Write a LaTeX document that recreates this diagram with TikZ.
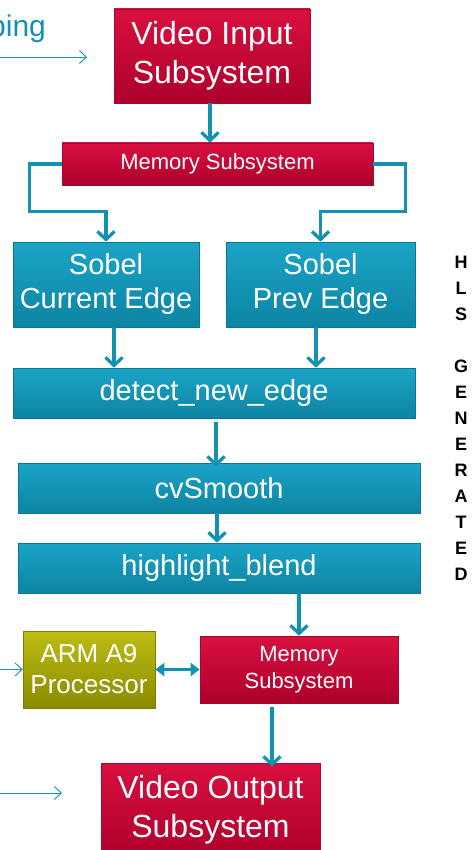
\documentclass[tikz,border=0pt]{standalone}
\usepackage{fontspec}
\setmainfont{Liberation Sans}
\usetikzlibrary{arrows.meta,shadings}
\definecolor{redtop}{HTML}{D8103F}
\definecolor{redbot}{HTML}{AE002C}
\definecolor{redline}{HTML}{9E0A30}
\definecolor{tealtop}{HTML}{1BA4C7}
\definecolor{tealbot}{HTML}{0D84A3}
\definecolor{tealline}{HTML}{0B7893}
\definecolor{olivetop}{HTML}{BDBD14}
\definecolor{olivebot}{HTML}{8A8A00}
\definecolor{oliveline}{HTML}{7D7D00}
\definecolor{linecol}{HTML}{1391B2}
\begin{document}
\begin{tikzpicture}[x=1pt,y=-1pt,
  boxbase/.style={rectangle, inner sep=0pt, align=center, text=white, line width=0.6pt},
  redbox/.style={boxbase, top color=redtop, bottom color=redbot, draw=redline},
  tealbox/.style={boxbase, top color=tealtop, bottom color=tealbot, draw=tealline},
  olivebox/.style={boxbase, top color=olivetop, bottom color=olivebot, draw=oliveline},
  fbig/.style={font=\fontsize{32}{39}\selectfont},
  fmid/.style={font=\fontsize{29}{34}\selectfont},
  farm/.style={font=\fontsize{26}{31}\selectfont},
  fsmall/.style={font=\fontsize{22}{27}\selectfont},
  arr/.style={draw=linecol, line width=3.3pt, -{Straight Barb[length=8pt,width=17pt]}},
  tharr/.style={draw=linecol, line width=0.9pt, -{Straight Barb[length=7pt,width=13pt]}},
  dblarr/.style={draw=linecol, line width=3.3pt, {Triangle[length=9pt,width=13pt]}-{Triangle[length=9pt,width=13pt]}}
]
\useasboundingbox (0,0) rectangle (475,850);
\clip (0,0) rectangle (475,850);

% nodes
\node[redbox, fbig, minimum width=196pt, minimum height=94pt] (vin) at (212,56) {Video Input\\Subsystem};
\node[redbox, fsmall, minimum width=311pt, minimum height=42pt] (mem1) at (217.5,164) {Memory Subsystem};
\node[tealbox, fmid, minimum width=186pt, minimum height=85pt] (sobc) at (106,284.5) {Sobel\\Current Edge};
\node[tealbox, fmid, minimum width=189pt, minimum height=85pt] (sobp) at (320.5,284.5) {Sobel\\Prev Edge};
\node[tealbox, fmid, minimum width=402pt, minimum height=50pt] (det) at (214,393) {detect\_new\_edge};
\node[tealbox, fmid, minimum width=402pt, minimum height=50pt] (cvs) at (219,488) {cvSmooth};
\node[tealbox, fmid, minimum width=402pt, minimum height=50pt] (hlb) at (219,568) {highlight\_blend};
\node[olivebox, farm, minimum width=132pt, minimum height=77pt] (arm) at (89,669.5) {ARM A9\\Processor};
\node[redbox, fsmall, minimum width=198pt, minimum height=67pt] (mem2) at (299,669.5) {Memory\\Subsystem};
\node[redbox, fbig, minimum width=219pt, minimum height=94pt] (vout) at (210.5,810) {Video Output\\Subsystem};

\node[font=\fontsize{30}{36}\selectfont, text=linecol, anchor=base west, inner sep=0pt] (ping) at (-11,37) {ping};
\node[font=\bfseries\fontsize{18}{26}\selectfont, align=center, inner sep=0pt] (hls) at (461,418.5)
  {H\\L\\S\\[26pt]G\\E\\N\\E\\R\\A\\T\\E\\D};

% free ends
\coordinate (t1s) at (0,57);
\coordinate (t1e) at (87,57);
\coordinate (t2s) at (0,669.5);
\coordinate (t3s) at (0,793);
\coordinate (t3e) at (62,793);

% connectors
\draw[arr] ([xshift=-2pt]vin.south) -- ([xshift=-2pt]vin.south |- mem1.north);
\draw[arr] (mem1.west) -- ++(-32,0) |- ([yshift=30pt]sobc.north) -- (sobc.north);
\draw[arr] (mem1.east) -- ++(32,0) |- ([yshift=30pt]sobp.north) -- (sobp.north);
\draw[arr] ([xshift=8pt]sobc.south) -- ([xshift=8pt]sobc.south |- det.north);
\draw[arr] ([xshift=-4.5pt]sobp.south) -- ([xshift=-4.5pt]sobp.south |- det.north);
\draw[arr] ([xshift=2pt,yshift=-4pt]det.south) -- ([xshift=2pt,yshift=-4pt]det.south |- cvs.north);
\draw[arr] ([xshift=-2pt]cvs.south) -- ([xshift=-2pt]cvs.south |- hlb.north);
\draw[arr] (mem2.north |- hlb.south) -- (mem2.north);
\draw[dblarr] (arm.east) -- (mem2.west);
\draw[arr] ([xshift=-27pt,yshift=-4pt]mem2.south) -- ([xshift=-27pt,yshift=-4pt]mem2.south |- vout.north);

\draw[tharr] (t1s) -- (t1e);
\draw[tharr] (t2s) -- (arm.west);
\draw[tharr] (t3s) -- (t3e);
\end{tikzpicture}
\end{document}
